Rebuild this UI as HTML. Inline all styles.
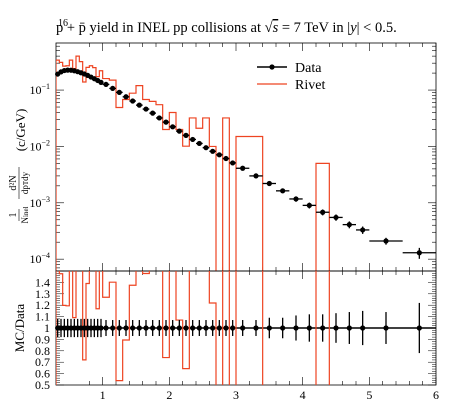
<!DOCTYPE html>
<html><head><meta charset="utf-8">
<style>
html,body{margin:0;padding:0;background:#fff;}
svg{display:block;font-family:"Liberation Serif",serif;}
</style></head>
<body>
<svg id="chart" width="450" height="407" viewBox="0 0 450 407">
<text x="56" y="32" font-size="14.5">p + p̄ yield in INEL pp collisions at √<tspan text-decoration="overline" font-style="italic">s</tspan> = 7 TeV in |<tspan font-style="italic">y</tspan>| &lt; 0.5.</text>
<text x="58" y="26" font-size="10">16</text>
<g transform="translate(20,155) rotate(-90)">
<text x="-60" y="-4" font-size="10" text-anchor="middle">1</text>
<line x1="-66" y1="-1" x2="-54" y2="-1" stroke="#000" stroke-width="0.6"/>
<text x="-60" y="8" font-size="9" text-anchor="middle">N<tspan font-size="7">inel</tspan></text>
<text x="-28" y="-4" font-size="10" text-anchor="middle">d²N</text>
<line x1="-44" y1="-1" x2="-12" y2="-1" stroke="#000" stroke-width="0.6"/>
<text x="-28" y="8" font-size="9" text-anchor="middle">dp<tspan font-size="7">T</tspan>dy</text>
<text x="25" y="5" font-size="13" text-anchor="middle">(c/GeV)</text>
</g>
<text transform="translate(24,328) rotate(-90)" font-size="13" text-anchor="middle">MC/Data</text>
<g id="main"></g>
<g id="ratio"></g>
<g>
<line x1="257" y1="67" x2="287" y2="67" stroke="#000" stroke-width="1.5"/>
<circle cx="272" cy="67" r="2.6" fill="#000"/>
<text x="295" y="72" font-size="14">Data</text>
<line x1="257" y1="84" x2="287" y2="84" stroke="#ee4422" stroke-width="1.3"/>
<text x="295" y="89" font-size="14">Rivet</text>
</g>
</svg>
<script>
const binEdges=[0.30,0.35,0.40,0.45,0.50,0.55,0.60,0.65,0.70,0.75,0.80,0.85,0.90,0.95,1.0,1.1,1.2,1.3,1.4,1.5,1.6,1.7,1.8,1.9,2.0,2.1,2.2,2.3,2.4,2.5,2.6,2.7,2.8,2.9,3.0,3.2,3.4,3.6,3.8,4.0,4.2,4.4,4.6,4.8,5.0,5.5,6.0];
const dataValues=[0.192,0.21,0.222,0.226,0.225,0.22,0.212,0.203,0.193,0.182,0.17,0.159,0.148,0.137,0.126,0.107,0.091,0.076,0.064,0.054,0.046,0.039,0.032,0.027,0.0223,0.0187,0.0157,0.0133,0.0113,0.0095,0.0082,0.0071,0.0061,0.0051,0.0041,0.003,0.0022,0.00163,0.00117,0.0009,0.00068,0.00055,0.00041,0.00033,0.00021,0.00013];
const dataRelErr=[0.08,0.08,0.08,0.08,0.08,0.08,0.08,0.08,0.08,0.08,0.08,0.08,0.08,0.08,0.07,0.07,0.07,0.07,0.07,0.07,0.07,0.07,0.07,0.07,0.07,0.07,0.07,0.07,0.07,0.07,0.07,0.07,0.07,0.07,0.07,0.07,0.09,0.09,0.11,0.12,0.12,0.13,0.14,0.15,0.14,0.22];
const rivetValues=[0.34,0.31,0.266,0.27,0.34,0.24,0.40,0.32,0.139,0.253,0.27,0.25,0.173,0.22,0.16,0.15,0.049,0.068,0.088,0.12,0.068,0.063,0.055,0.020,0.04,0.02,0.0101,0.032,0.021,0.032,0.01,0,0.032,0,0.015,0.015,0,0,0,0,0.005,0,0,0,0,0];
const mainYTicks=[-1,-2,-3,-4];
const ratioTicks=[0.5,0.6,0.7,0.8,0.9,1,1.1,1.2,1.3,1.4];
const xTickLabels=[1,2,3,4,5,6];

const L=56,R=436,MT=43,MB=271,RB=385;
const xs=v=>L+(v-0.3)/(6-0.3)*(R-L);
const LOGTOP=-0.165,LOGBOT=-4.21;
const ym=v=>MT+(LOGTOP-Math.log10(v))/(LOGTOP-LOGBOT)*(MB-MT);
const yr=v=>MB+(1.5-v)/(1.5-0.5)*(RB-MB);
const NS="http://www.w3.org/2000/svg";
function mk(tag,attrs,parent){const e=document.createElementNS(NS,tag);for(const k in attrs)e.setAttribute(k,attrs[k]);parent.appendChild(e);return e;}
const main=document.getElementById('main'),ratio=document.getElementById('ratio');

const defs=mk('defs',{},document.getElementById('chart'));
const c1=mk('clipPath',{id:'cm'},defs);mk('rect',{x:L,y:MT,width:R-L,height:MB-MT},c1);
const c2=mk('clipPath',{id:'cr'},defs);mk('rect',{x:L,y:MB,width:R-L,height:RB-MB},c2);

let f=mk('rect',{x:L,y:MT,width:R-L,height:MB-MT,fill:'none',stroke:'#000','stroke-width':0.8},main);

f=mk('rect',{x:L,y:MB,width:R-L,height:RB-MB,fill:'none',stroke:'#000','stroke-width':0.8},ratio);


for(let i=4;i<=30;i++){const v=i*0.2;const x=xs(v);const major=Math.abs(v-Math.round(v))<1e-6;const len=major?8:4;
 for(const [y0,d] of [[MT,1],[MB,-1],[MB,1],[RB,-1]]){mk('line',{x1:x,y1:y0,x2:x,y2:y0+d*len,stroke:'#000','stroke-width':0.6},main);}
}
xTickLabels.forEach(v=>{const t=mk('text',{x:xs(v),y:RB+14,'font-size':12,'text-anchor':'middle'},ratio);t.textContent=v;
});

for(let d=-5;d<=0;d++){for(let m=1;m<=9;m++){const v=m*Math.pow(10,d);const y=ym(v);if(y<MT||y>MB)continue;const len=m==1?8:4;
 mk('line',{x1:L,y1:y,x2:L+len,y2:y,stroke:'#000','stroke-width':0.6},main);mk('line',{x1:R,y1:y,x2:R-len,y2:y,stroke:'#000','stroke-width':0.6},main);}}
mainYTicks.forEach(e=>{const t=mk('text',{x:L-6,y:ym(Math.pow(10,e))+4,'font-size':12,'text-anchor':'end'},main);
t.innerHTML='10<tspan dy="-5" font-size="8">−'+(-e)+'</tspan>';
});

for(let i=25;i<=75;i++){const v=i*0.02;const y=yr(v);const major=Math.abs(v*10-Math.round(v*10))<1e-6;const len=major?8:4;
 mk('line',{x1:L,y1:y,x2:L+len,y2:y,stroke:'#000','stroke-width':0.5},ratio);mk('line',{x1:R,y1:y,x2:R-len,y2:y,stroke:'#000','stroke-width':0.5},ratio);}
ratioTicks.forEach(v=>{const t=mk('text',{x:L-6,y:yr(v)+4,'font-size':12,'text-anchor':'end'},ratio);t.textContent=v;
});

function histPath(vals,yf,floorY){let d='';
 for(let i=0;i<vals.length;i++){const x0=xs(binEdges[i]),x1=xs(binEdges[i+1]);const y=vals[i]>0?yf(vals[i]):floorY;
  d+=(i==0?'M'+x0+','+floorY+'L':'L')+x0+','+y+'L'+x1+','+y;}
 d+='L'+xs(binEdges[vals.length])+','+floorY;return d;}
let p=mk('path',{d:histPath(rivetValues,ym,MB+5),fill:'none',stroke:'#ee4422','stroke-width':1.2,'clip-path':'url(#cm)'},main);


const ratioVals=rivetValues.map((v,i)=>v/dataValues[i]);
mk('line',{x1:L,y1:yr(1),x2:R,y2:yr(1),stroke:'#000','stroke-width':1.5},ratio);
p=mk('path',{d:histPath(ratioVals,v=>yr(Math.min(Math.max(v,0.4),1.6)),RB+5),fill:'none',stroke:'#ee4422','stroke-width':1.2,'clip-path':'url(#cr)'},ratio);


dataValues.forEach((v,i)=>{const x0=xs(binEdges[i]),x1=xs(binEdges[i+1]),xc=(x0+x1)/2;const e=dataRelErr[i];
 const g=mk('g',{},main);
 
 mk('line',{x1:x0,y1:ym(v),x2:x1,y2:ym(v),stroke:'#000','stroke-width':1.3},g);
 mk('line',{x1:xc,y1:ym(v*(1-e)),x2:xc,y2:ym(v*(1+e)),stroke:'#000','stroke-width':1.3},g);
 mk('circle',{cx:xc,cy:ym(v),r:2.6,fill:'#000'},g);
 const g2=mk('g',{},ratio);
 
 mk('line',{x1:xc,y1:yr(1-e),x2:xc,y2:yr(1+e),stroke:'#000','stroke-width':1.3},g2);
 mk('circle',{cx:xc,cy:yr(1),r:2.6,fill:'#000'},g2);
});
</script>
</body></html>
